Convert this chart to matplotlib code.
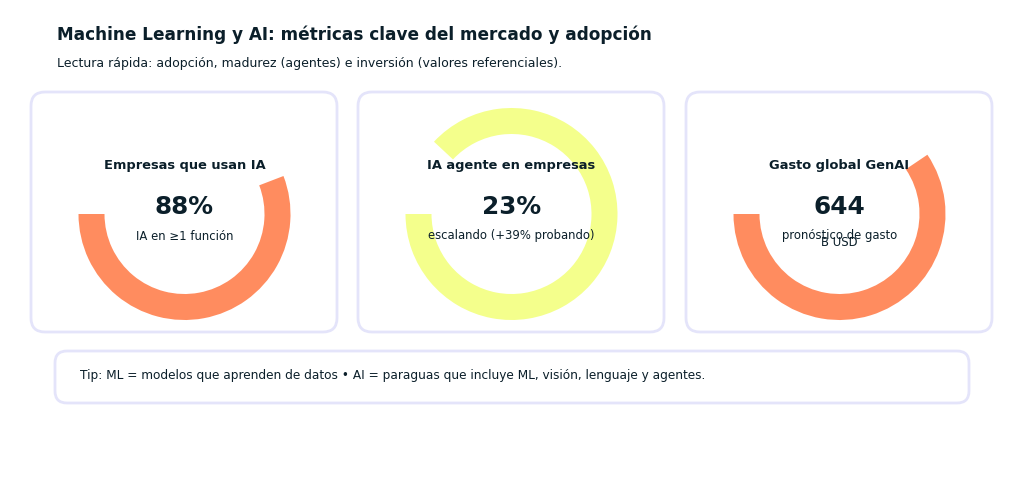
import matplotlib
matplotlib.use("Agg")
import matplotlib.pyplot as plt
from matplotlib.patches import FancyBboxPatch, Wedge

# ---- data ----
card_titles = ["Empresas que usan IA", "IA agente en empresas", "Gasto global GenAI"]
card_values = ["88%", "23%", "644"]
card_notes = ["IA en ≥1 función", "escalando (+39% probando)", "pronóstico de gasto"]
card_units = ["", "", "B USD"]
arc_sweep_deg = [201, 317, 214]   # arc extent
arc_colors = ["#FF8C5F", "#F4FF8C", "#FF8C5F"]

title = "Machine Learning y AI: métricas clave del mercado y adopción"
subtitle = "Lectura rápida: adopción, madurez (agentes) e inversión (valores referenciales)."
tip = "Tip: ML = modelos que aprenden de datos • AI = paraguas que incluye ML, visión, lenguaje y agentes."

TXT = "#0B1F2A"
BORDER = "#E4E4FA"
H = 500

fig = plt.figure(figsize=(10.24, 5.0), dpi=100)
ax = fig.add_axes([0, 0, 1, 1])
ax.set_xlim(0, 1024)
ax.set_ylim(0, H)
ax.axis("off")

def Y(y):
    return H - y

fig.text(57 / 1024, 1 - 35 / H, title, fontsize=12.2, fontweight="bold", color=TXT, va="center", ha="left")
fig.text(57 / 1024, 1 - 64 / H, subtitle, fontsize=9.0, color=TXT, va="center", ha="left")

card_x0 = [31, 358, 686]
card_w = 306
card_top, card_bot = 92, 332
for i in range(3):
    x0 = card_x0[i]
    box = FancyBboxPatch((x0, Y(card_bot)), card_w, card_bot - card_top,
                         boxstyle="round,pad=0,rounding_size=14",
                         facecolor="white", edgecolor=BORDER, linewidth=2, zorder=1)
    ax.add_patch(box)
    cx = x0 + card_w / 2 + 0.5
    cy = Y(214)
    w = Wedge((cx, cy), 106, 180, 180 + arc_sweep_deg[i], width=26,
              facecolor=arc_colors[i], edgecolor="none", zorder=2)
    ax.add_patch(w)
    ax.text(cx, Y(166), card_titles[i], fontsize=9.4, fontweight="bold", color=TXT,
            ha="center", va="center", zorder=3)
    ax.text(cx, Y(207), card_values[i], fontsize=17.8, fontweight="bold", color=TXT,
            ha="center", va="center", zorder=3)
    ax.text(cx, Y(236), card_notes[i], fontsize=8.4, color=TXT,
            ha="center", va="center", zorder=3)
    if card_units[i]:
        ax.text(cx, Y(242), card_units[i], fontsize=8.4, color=TXT,
                ha="center", va="center", zorder=3)

tipbox = FancyBboxPatch((55, Y(403)), 914, 52,
                        boxstyle="round,pad=0,rounding_size=12",
                        facecolor="white", edgecolor=BORDER, linewidth=2, zorder=1)
ax.add_patch(tipbox)
ax.text(80, Y(376), tip, fontsize=8.7, color=TXT, ha="left", va="center", zorder=3)

fig.savefig("out.png", dpi=100, facecolor="white")
